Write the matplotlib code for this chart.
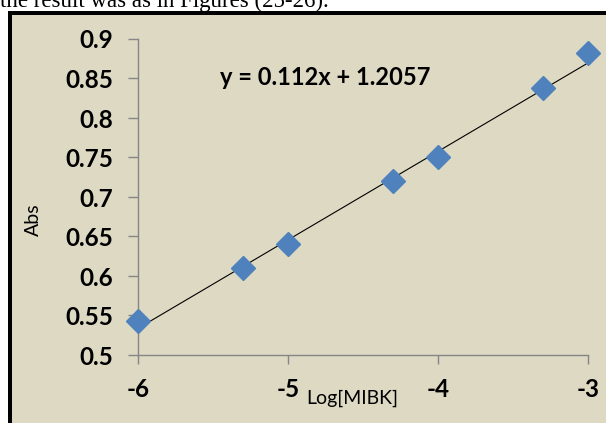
import matplotlib
matplotlib.use("Agg")
import matplotlib.pyplot as plt
from matplotlib.patches import Rectangle
import numpy as np

# Data
log_mibk = [-6.0, -5.3, -5.0, -4.3, -4.0, -3.3, -3.0]
absorbance = [0.543, 0.610, 0.640, 0.720, 0.750, 0.838, 0.882]
slope = 0.112
intercept = 1.2057
equation_text = "y = 0.112x + 1.2057"
x_ticks = [-6, -5, -4, -3]
y_ticks = [0.5, 0.55, 0.6, 0.65, 0.7, 0.75, 0.8, 0.85, 0.9]
y_tick_labels = ["0.5", "0.55", "0.6", "0.65", "0.7", "0.75", "0.8", "0.85", "0.9"]
caption = "the result was as in Figures (25-26)."

W, H = 606, 423
fig = plt.figure(figsize=(W / 100, H / 100), dpi=100, facecolor="white")

def fx(px):
    return px / W

def fy(py):
    return 1 - py / H

# Frame: black border + beige background
fig.patches.append(Rectangle((fx(8), 0), 1 - fx(8), fy(11), transform=fig.transFigure,
                             facecolor="black", edgecolor="none", zorder=-2))
fig.patches.append(Rectangle((fx(12), 0), 1 - fx(12), fy(15), transform=fig.transFigure,
                             facecolor="#DDD9C3", edgecolor="none", zorder=-1))

fig.text(fx(0), fy(7), caption, fontsize=16.5, family="Liberation Serif",
         ha="left", va="baseline", color="black")

ax = fig.add_axes([fx(138), fy(355), fx(588) - fx(138), fy(39) - fy(355)])
ax.set_zorder(2)
ax.set_facecolor("none")
ax.set_xlim(-6, -3)
ax.set_ylim(0.5, 0.9)

xs = np.array([min(log_mibk), max(log_mibk)])
ax.plot(xs, slope * xs + intercept, color="black", lw=0.8, zorder=2)
ax.plot(log_mibk, absorbance, linestyle="none", marker="D", markersize=12.5,
        color="#4F81BD", markeredgecolor="#4F81BD", zorder=3, clip_on=False)

for s in ["top", "right"]:
    ax.spines[s].set_visible(False)
for s in ["left", "bottom"]:
    ax.spines[s].set_color("#868686")
    ax.spines[s].set_linewidth(1.0)

ax.set_xticks(x_ticks)
ax.set_xticklabels([str(t) for t in x_ticks])
ax.set_yticks(y_ticks)
ax.set_yticklabels(y_tick_labels)
ax.tick_params(axis="y", direction="out", length=7, width=1, color="#868686", pad=11)
ax.tick_params(axis="x", direction="out", length=6.5, width=1, color="#868686", pad=10)
for lab in ax.get_xticklabels() + ax.get_yticklabels():
    lab.set_family("Lato")
    lab.set_fontweight("bold")
    lab.set_fontsize(17.5)

fig.text(fx(352), fy(398), "Log[MIBK]", family="Lato", fontsize=14,
         ha="center", va="center", zorder=3)
fig.text(fx(33), fy(220), "Abs", family="Lato", fontsize=14, rotation=90,
         ha="center", va="center", zorder=3)

ax.text(-5.45, 0.8508, equation_text, family="Lato", fontweight="bold", fontsize=17,
        ha="left", va="center")

fig.savefig("out.png", dpi=100, facecolor="white")
